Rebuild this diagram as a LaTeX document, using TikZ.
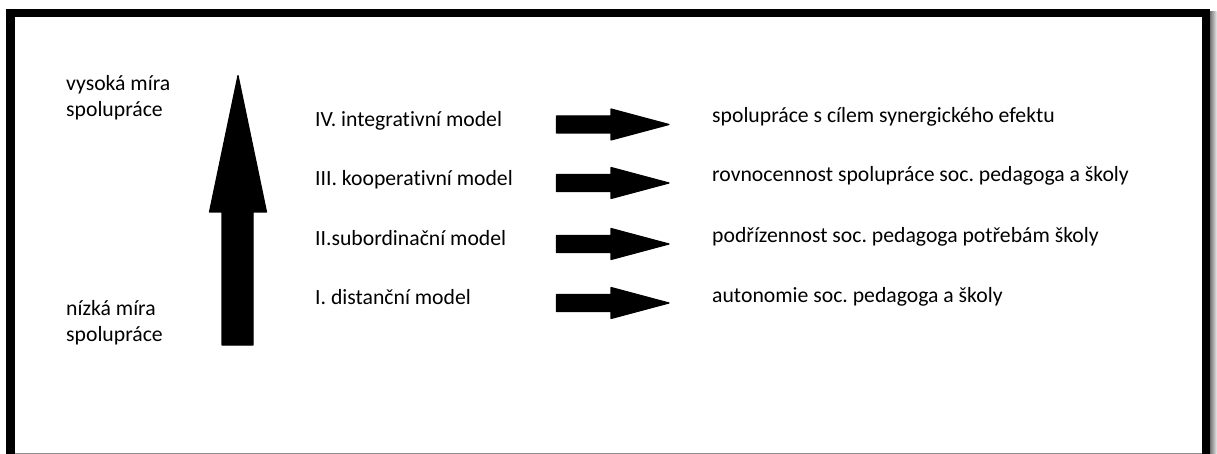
\documentclass[tikz,border=0pt]{standalone}
\usepackage{fontspec}
\setmainfont[Ligatures={NoCommon,NoRequired,NoContextual}]{Carlito}
\frenchspacing
\begin{document}
\begin{tikzpicture}[x=1pt,y=-1pt,
  lbl/.style={anchor=base west,inner sep=0pt,text=black,font=\fontsize{21.7}{26}\selectfont},
  blockarrow/.style={fill=black,draw=black,line width=1.2pt,line join=round}]
\useasboundingbox (0,0) rectangle (1217,454);
\fill[white] (0,0) rectangle (1217,454);
% drop shadow of the frame
\shade[left color=black!55,right color=black!10] (1210,12) rectangle (1216.5,454);
\fill[black!45] (15,452.5) rectangle (1210,454);
% frame
\draw[line width=8.5pt] (10.5,13) -- (1206,13) -- (1206,470);
\draw[line width=8.5pt] (10.5,8.75) -- (10.5,470);

% side labels
\node[lbl] (hi1) at (66,91) {vysoká míra};
\node[lbl] (hi2) at (66,117) {spolupráce};
\node[lbl] (lo1) at (66,315) {nízká míra};
\node[lbl] (lo2) at (66,341) {spolupráce};

% vertical arrow
\fill[blockarrow] (222,345) -- (222,212) -- (209.5,212) -- (238,75.5)
  -- (266.5,212) -- (253,212) -- (253,345) -- cycle;

% models
\node[lbl] (m4) at (315,127) {IV. integrativní model};
\node[lbl] (m3) at (315,186) {III. kooperativní model};
\node[lbl] (m2) at (315,246) {II.subordinační model};
\node[lbl] (m1) at (315,304) {I. distanční model};

% descriptions
\node[lbl] (d4) at (712,123) {spolupráce s cílem synergického efektu};
\node[lbl] (d3) at (712,182) {rovnocennost spolupráce soc. pedagoga a školy};
\node[lbl] (d2) at (712,243) {podřízennost soc. pedagoga potřebám školy};
\node[lbl] (d1) at (712,302) {autonomie soc. pedagoga a školy};

% horizontal arrows
\foreach \c in {124.5,183,244,303}{
  \fill[blockarrow] (556.5,\c-8.5) -- (611,\c-8.5) -- (611,\c-15.5) -- (669,\c)
    -- (611,\c+15.5) -- (611,\c+8.5) -- (556.5,\c+8.5) -- cycle;
}
\end{tikzpicture}
\end{document}
